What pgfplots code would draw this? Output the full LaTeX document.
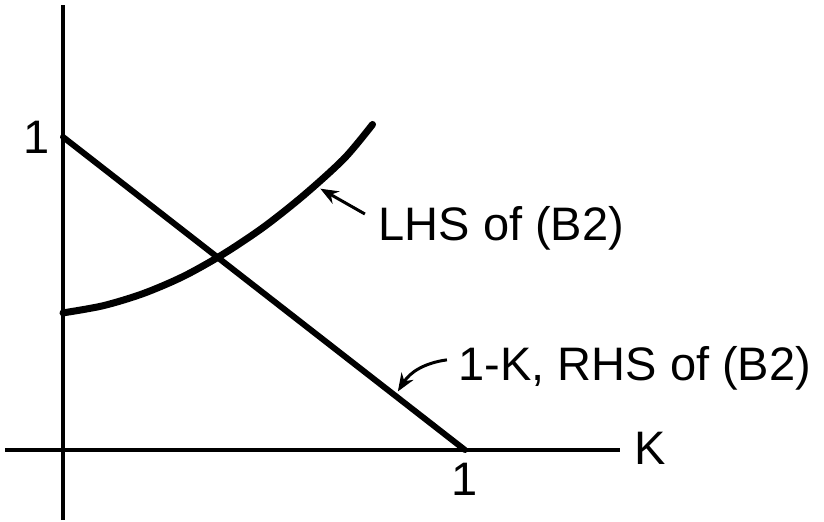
\documentclass[border=0pt]{standalone}
\usepackage{fontspec}
\setmainfont{Liberation Sans}
\usepackage{pgfplots}
\pgfplotsset{compat=1.18}
\usetikzlibrary{arrows.meta}
\begin{document}
\begin{tikzpicture}
\useasboundingbox (0,0) rectangle (412pt,-261pt);
\begin{axis}[
  at={(31.5pt,-225pt)}, anchor=origin,
  x=201pt, y=156.5pt,
  xmin=-0.144, xmax=1.386, ymin=-0.224, ymax=1.422,
  axis lines=middle,
  axis line style={line width=2pt,-},
  xtick={1}, ytick={1},
  major tick length=0pt,
  /pgf/number format/assume math mode=true,
  ticklabel style={font=\fontsize{23.5}{28}\selectfont},
  xticklabel style={yshift=-3pt},
  yticklabel style={xshift=-3pt},
  clip=false,
]
\addplot[line width=3pt, line cap=round] coordinates {(0,1) (1,0)};
\addplot[line width=3.5pt, smooth, line cap=round] coordinates {
  (0,0.438) (0.1,0.461) (0.2,0.500) (0.3,0.555) (0.4,0.627)
  (0.5,0.713) (0.6,0.815) (0.7,0.932) (0.77,1.040)};
\node[font=\fontsize{23.5}{28}\selectfont] at (axis cs:1.46,0.006) {K};
\node[anchor=west, font=\fontsize{23.5}{28}\selectfont, inner sep=0pt] at (axis cs:0.784,0.709) {LHS of (B2)};
\draw[line width=1.5pt, -{Stealth[length=9pt,width=7pt]}] (axis cs:0.751,0.754) -- (axis cs:0.640,0.835);
\node[anchor=west, font=\fontsize{23.5}{28}\selectfont, inner sep=0pt] at (axis cs:0.983,0.262) {1-K, RHS of (B2)};
\draw[line width=1.5pt, -{Stealth[length=9pt,width=7pt]}] (axis cs:0.955,0.288) to[bend right=25] (axis cs:0.833,0.187);
\end{axis}
\end{tikzpicture}
\end{document}
